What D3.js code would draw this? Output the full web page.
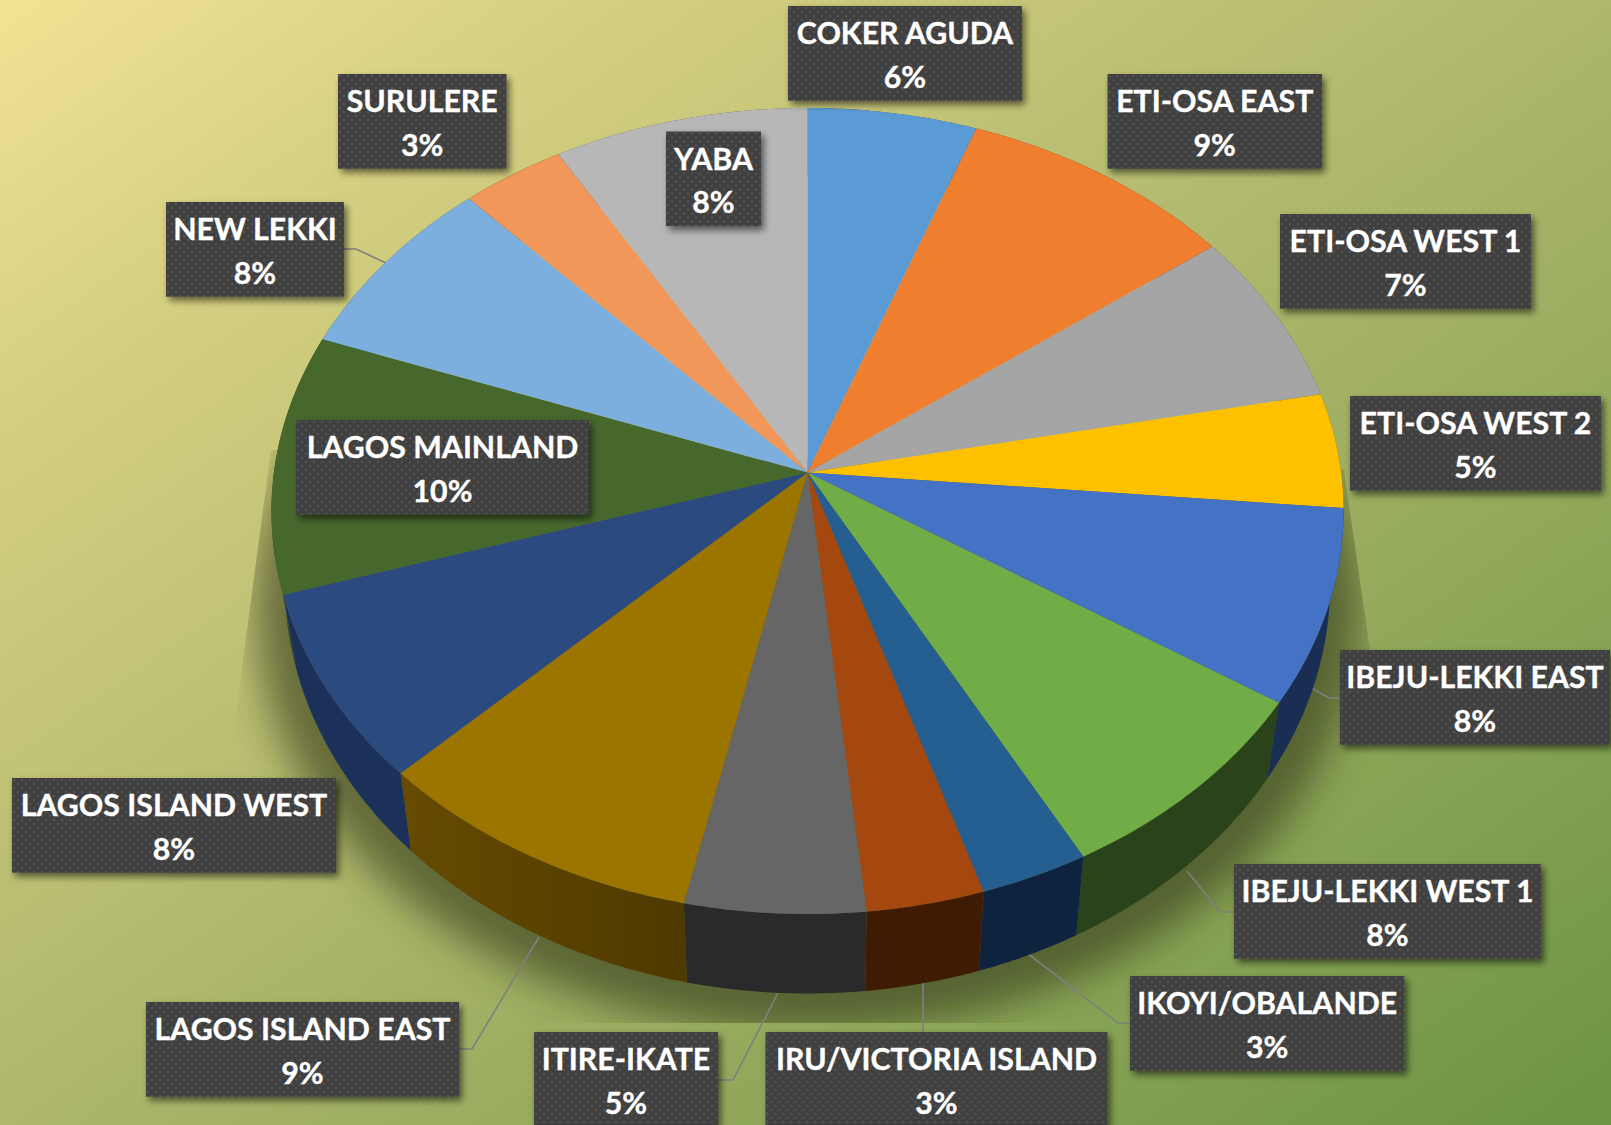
<!DOCTYPE html>
<html lang="en">
<head>
  <meta charset="utf-8">
  <title>Pie by district</title>
  <style>
    body { margin:0; background:#fff; }
    svg  { width:1611px; height:1125px; display:block; }
    text { font-family:Lato, "Open Sans", sans-serif; font-weight:700; font-size:30.3px; fill:#fff; stroke:#fff; stroke-width:0.35px; text-anchor:middle; }
  </style>
</head>
<body>
<svg id="chart" viewBox="0 0 1611 1125"></svg>
<script src="https://d3js.org/d3.v7.min.js"></script>
<script>
const districts = ["COKER AGUDA","ETI-OSA EAST","ETI-OSA WEST 1","ETI-OSA WEST 2","IBEJU-LEKKI EAST","IBEJU-LEKKI WEST 1","IKOYI/OBALANDE","IRU/VICTORIA ISLAND","ITIRE-IKATE","LAGOS ISLAND EAST","LAGOS ISLAND WEST","LAGOS MAINLAND","NEW LEKKI","SURULERE","YABA"];
const shares = [5.6, 9.2, 7.0, 4.6, 7.8, 7.95, 3.0, 3.25, 4.97, 9.23, 7.6, 10.4, 7.52, 3.45, 8.43];
const topColors = ["#5B9BD5","#F07E2F","#A5A5A5","#FFC000","#4472C4","#70AD47","#255E91","#A5480F","#666666","#9C7400","#2B4A80","#46682D","#7CAFDD","#F1975A","#B7B7B7"];
const wallColors = ["#2C4C68","#6B3510","#4A4A4A","#735600","#1A2D52","#2A431B","#0E243E","#3F1B03","#2A2A2A","#5A4200","#1C3159","#2F4A1F","#3A5B7D","#6F4526","#555555"];

// label boxes [x0, y0, x1] in page pixels, same order as districts
const boxes = [[788,6,1022],[1107.5,74,1322],[1280,214,1531],[1350,396,1601],[1340,650,1610],[1234,864,1541],[1130,976,1404.5],[765.5,1032,1107.5],[534,1032,718],[146,1002,459],[12,778,336],[296,420,589],[166,202,344],[338,74,506.5],[666,131.5,761]];
const boxH = 94.7;

// leader lines: district index, then polyline points
const leaders = [
  [12, [[344,249],[356,249],[386,263]]],
  [4,  [[1340,698],[1329,698],[1308,686]]],
  [5,  [[1234,912],[1220,912],[1187,871]]],
  [6,  [[1130,1023],[1118,1023],[1027,953]]],
  [7,  [[923,1033],[923,983]]],
  [8,  [[718,1080],[733,1080],[778,993]]],
  [9,  [[459,1049],[472,1049],[539,937]]]
];

const width = 1611, height = 1125;
const svg = d3.select("#chart");
const defs = svg.append("defs");

// -- background --
const bg = defs.append("linearGradient").attr("id","bg")
  .attr("gradientUnits","userSpaceOnUse")
  .attr("x1",0).attr("y1",0).attr("x2",1056).attr("y2",1512);
[[0,"#F2E294"],[0.18,"#D6D081"],[0.5,"#AEB76C"],[1,"#6B9443"]].forEach(s =>
  bg.append("stop").attr("offset",s[0]).attr("stop-color",s[1]));
svg.append("rect").attr("width",width).attr("height",height).attr("fill","url(#bg)");

// -- perspective mapping of a unit circle onto the page --
const cx = 807.5, apexY = 472.6, R = 533.6, a = 354.3, c = -0.0953;
const topRim = t => {
  const u = Math.sin(t), v = -Math.cos(t), w = 1 + c * v;
  return [cx + R * u / w, (a * v + apexY) / w];
};
const lowRim = t => {
  const p = topRim(t);
  return [cx + 0.975 * (p[0] - cx), apexY + 72.4 + 1.016 * (p[1] - apexY)];
};

const pie = d3.pie().sort(null).value(d => d);
const slices = pie(shares);
const total = d3.sum(shares);
const pct = d3.format(".0%");
const line = d3.line();
const arcPts = (f, t0, t1) => d3.range(0, 41).map(i => f(t0 + (t1 - t0) * i / 40));

// -- shadow on the background, cut off by a hard edge like the source --
const blur = defs.append("filter").attr("id","soft")
  .attr("x","-20%").attr("y","-20%").attr("width","140%").attr("height","140%");
blur.append("feGaussianBlur").attr("stdDeviation",20);
defs.append("clipPath").attr("id","shadowClip").append("polygon")
  .attr("points","271,450 230,757 230,1023 1372,1023 1370,650 1344,470");
svg.append("g").attr("clip-path","url(#shadowClip)")
  .append("ellipse")
  .attr("cx",cx).attr("cy",606).attr("rx",552).attr("ry",426)
  .attr("fill","#2e3618").attr("opacity",0.6).attr("filter","url(#soft)");

// -- leader lines --
svg.append("g").selectAll("path").data(leaders).join("path")
  .attr("d", d => line(d[1]))
  .attr("fill","none").attr("stroke","#7f7f7f").attr("stroke-width",1.6);

// -- walls, then top faces --
slices.forEach((s, i) => {
  const g = defs.append("linearGradient").attr("id","wall"+i);
  const col = d3.color(wallColors[i]);
  g.append("stop").attr("offset",0).attr("stop-color", i === 9 ? col.brighter(0.35) : col);
  g.append("stop").attr("offset",1).attr("stop-color", i === 9 ? col.darker(0.4) : col);
});
svg.append("g").selectAll("path").data(slices).join("path")
  .attr("d", s => line(arcPts(topRim, s.startAngle, s.endAngle)
      .concat(arcPts(lowRim, s.endAngle, s.startAngle))) + "Z")
  .attr("fill", (s, i) => `url(#wall${i})`);

svg.append("g").selectAll("path").data(slices).join("path")
  .attr("d", s => line([[cx, apexY]].concat(arcPts(topRim, s.startAngle, s.endAngle))) + "Z")
  .attr("fill", (s, i) => topColors[i]);

// -- data labels --
const dots = defs.append("pattern").attr("id","dots")
  .attr("patternUnits","userSpaceOnUse").attr("width",8).attr("height",8);
dots.append("rect").attr("width",8).attr("height",8).attr("fill","#404040");
[[1,1],[5,5]].forEach(p => dots.append("rect")
  .attr("x",p[0]).attr("y",p[1]).attr("width",2).attr("height",2).attr("fill","#555555"));
const drop = defs.append("filter").attr("id","boxShadow")
  .attr("x","-10%").attr("y","-15%").attr("width","125%").attr("height","140%");
drop.append("feDropShadow").attr("dx",3).attr("dy",4).attr("stdDeviation",3.5)
  .attr("flood-color","#000").attr("flood-opacity",0.55);

const labels = svg.append("g").selectAll("g").data(slices).join("g")
  .attr("transform", (s, i) => `translate(${boxes[i][0]},${boxes[i][1]})`);
labels.append("rect")
  .attr("width", (s, i) => boxes[i][2] - boxes[i][0])
  .attr("height", boxH)
  .attr("fill","url(#dots)")
  .attr("filter","url(#boxShadow)");
labels.append("text")
  .attr("x", (s, i) => (boxes[i][2] - boxes[i][0]) / 2).attr("y", 38)
  .text((s, i) => districts[i]);
labels.append("text")
  .attr("x", (s, i) => (boxes[i][2] - boxes[i][0]) / 2).attr("y", 81.6)
  .text(s => pct(s.value / total));
</script>
</body>
</html>
